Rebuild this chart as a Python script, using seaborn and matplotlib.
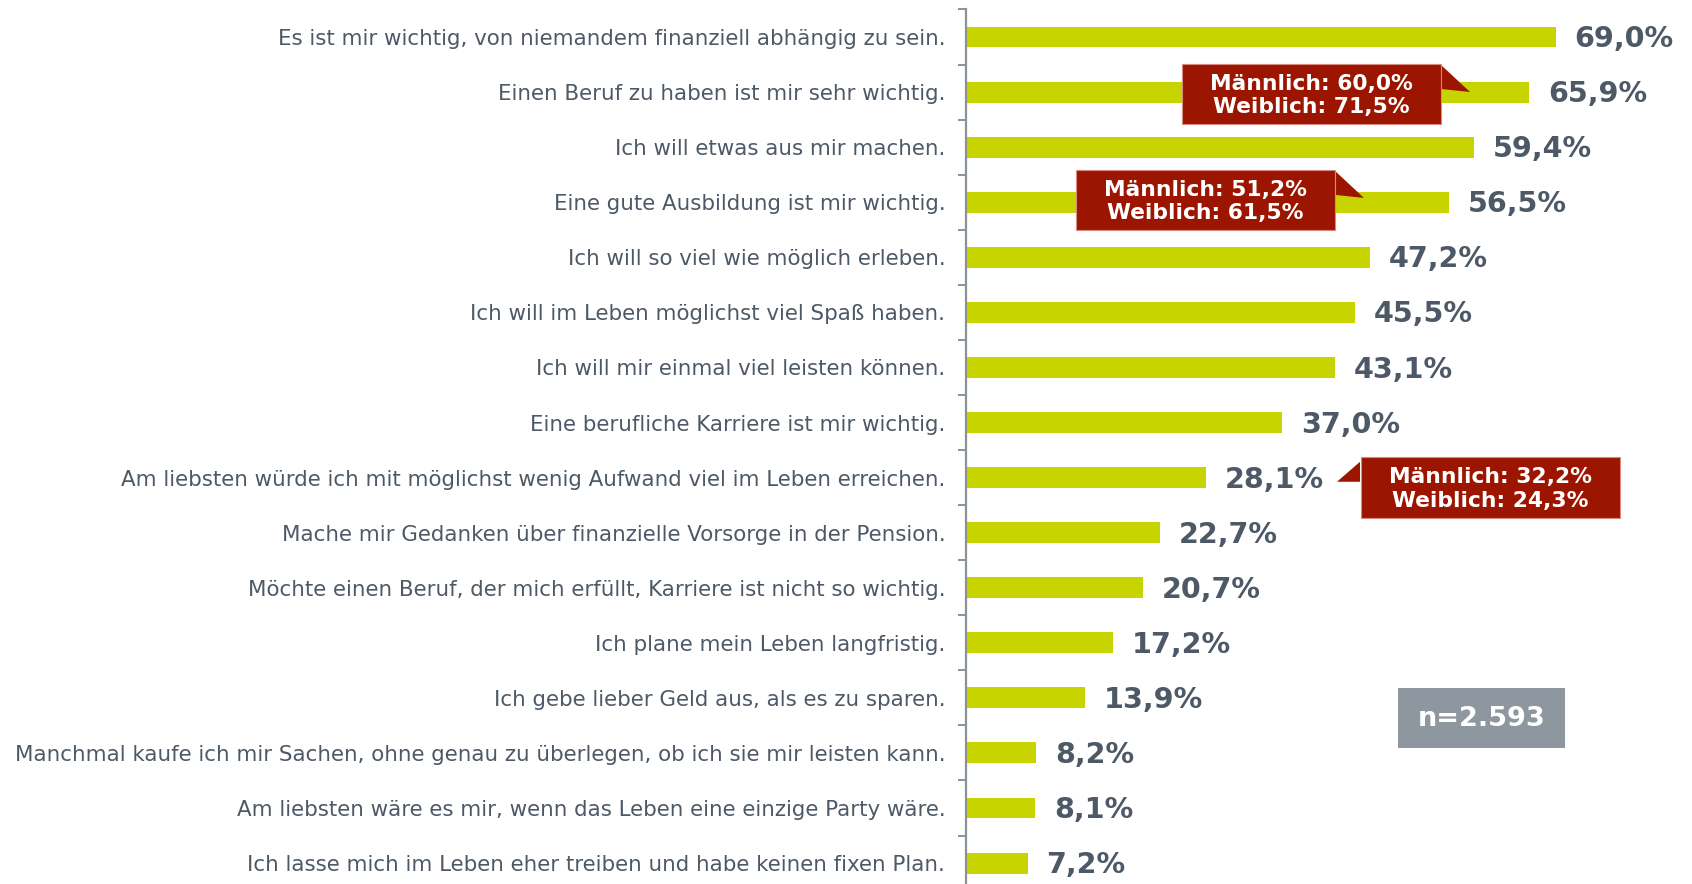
import matplotlib
matplotlib.use("Agg")
import matplotlib.pyplot as plt
import seaborn as sns
import pandas as pd
from matplotlib.patches import Rectangle, Polygon
from matplotlib.ticker import FixedLocator

statements = [
    "Es ist mir wichtig, von niemandem finanziell abhängig zu sein.",
    "Einen Beruf zu haben ist mir sehr wichtig.",
    "Ich will etwas aus mir machen.",
    "Eine gute Ausbildung ist mir wichtig.",
    "Ich will so viel wie möglich erleben.",
    "Ich will im Leben möglichst viel Spaß haben.",
    "Ich will mir einmal viel leisten können.",
    "Eine berufliche Karriere ist mir wichtig.",
    "Am liebsten würde ich mit möglichst wenig Aufwand viel im Leben erreichen.",
    "Mache mir Gedanken über finanzielle Vorsorge in der Pension.",
    "Möchte einen Beruf, der mich erfüllt, Karriere ist nicht so wichtig.",
    "Ich plane mein Leben langfristig.",
    "Ich gebe lieber Geld aus, als es zu sparen.",
    "Manchmal kaufe ich mir Sachen, ohne genau zu überlegen, ob ich sie mir leisten kann.",
    "Am liebsten wäre es mir, wenn das Leben eine einzige Party wäre.",
    "Ich lasse mich im Leben eher treiben und habe keinen fixen Plan.",
]
values = [69.0, 65.9, 59.4, 56.5, 47.2, 45.5, 43.1, 37.0, 28.1, 22.7, 20.7, 17.2, 13.9, 8.2, 8.1, 7.2]

callout_rows = [1, 3, 8]
callout_male = [60.0, 51.2, 32.2]
callout_female = [71.5, 61.5, 24.3]
sample_text = "n=2.593"

BAR = "#c8d400"
TXT = "#4d5966"
RED = "#9b1500"
GRAY = "#8e969f"

df = pd.DataFrame({"Aussage": statements, "Wert": values})

fig = plt.figure(figsize=(16.92, 8.84), dpi=100)
ax = fig.add_axes([966 / 1692, -6.6 / 884, (1692 - 966) / 1692, 881.1 / 884])

sns.barplot(data=df, y="Aussage", x="Wert", orient="h", color=BAR, width=0.38,
            saturation=1, ax=ax)

ax.set_xlim(0, (1692 - 966) / 8.55)
ax.set_ylim(15.5, -0.5)
ax.set_xlabel("")
ax.set_ylabel("")
ax.set_xticks([])
for s in ["top", "right", "bottom"]:
    ax.spines[s].set_visible(False)
ax.spines["left"].set_color("#8a9299")
ax.spines["left"].set_linewidth(1.6)

ax.tick_params(axis="y", which="major", length=0, pad=15, labelsize=15.4, labelcolor=TXT)
ax.yaxis.set_minor_locator(FixedLocator([i + 0.5 for i in range(-1, 16)]))
ax.tick_params(axis="y", which="minor", length=6, width=1.4, color="#8a9299")

for i, v in enumerate(values):
    ax.annotate(f"{v:.1f}%".replace(".", ","), xy=(v, i), xytext=(13.5, -1.5),
                textcoords="offset points", ha="left", va="center",
                fontsize=20.6, fontweight="bold", color=TXT)

# callout boxes: (center x, center y offset, pointer polygon relative to row)
box_specs = [
    (40.4, 0.03, [(55.56, -0.492), (58.95, -0.002), (55.56, -0.056)]),
    (28.0, -0.04, [(43.16, -0.568), (46.55, -0.078), (43.16, -0.133)]),
    (61.3, 0.18, [(46.08, -0.287), (43.39, 0.076), (46.08, 0.076)]),
]
bw, bh = 30.3, 1.09
for row, m, f, (cx, dy, poly) in zip(callout_rows, callout_male, callout_female, box_specs):
    cy = row + dy
    pts = [(px, row + py) for px, py in poly]
    ax.add_patch(Polygon(pts, closed=True, facecolor=RED, edgecolor="none", zorder=4))
    ax.add_patch(Rectangle((cx - bw / 2, cy - bh / 2), bw, bh, facecolor=RED,
                           edgecolor="#d88a80", linewidth=0.8, zorder=5))
    txt = f"Männlich: {m:.1f}%\nWeiblich: {f:.1f}%".replace(".", ",")
    ax.text(cx, cy + 0.03, txt, ha="center", va="center", color="white",
            fontsize=15.7, fontweight="bold", linespacing=1.22, zorder=6)

# sample size box
ncx, ncy = 60.3, 12.36
ax.add_patch(Rectangle((ncx - 19.5 / 2, ncy - 0.545), 19.5, 1.09, facecolor=GRAY,
                       edgecolor="none", zorder=5))
ax.text(ncx, ncy + 0.02, sample_text, ha="center", va="center", color="white",
        fontsize=19.5, fontweight="bold", zorder=6)

fig.savefig("out.png", dpi=100)
